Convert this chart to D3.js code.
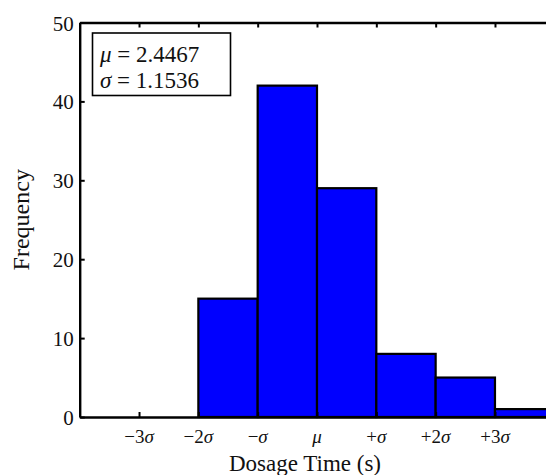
<!DOCTYPE html>
<html>
<head>
<meta charset="utf-8">
<script src="https://cdn.jsdelivr.net/npm/d3@7"></script>
<style>
  html, body { margin: 0; padding: 0; background: #fff; overflow: hidden; }
  svg { display: block; }
  svg text { font-family: "Liberation Serif", "Times New Roman", serif; fill: #111; }
</style>
</head>
<body>
<svg id="chart" width="546" height="475"></svg>
<script>
// ---- data ----
const mu = 2.4467;
const sigma = 1.1536;
const binStartSigma = [-2, -1, 0, 1, 2, 3];   // left edge of each bin, in sigma units
const binEndSigma   = [-1, 0, 1, 2, 3, 4];
const counts        = [15, 42, 29, 8, 5, 1];
const xTickSigma    = [-3, -2, -1, 0, 1, 2, 3];
const xTickLabels   = [["−3", "σ"], ["−2", "σ"], ["−", "σ"], ["", "μ"], ["+", "σ"], ["+2", "σ"], ["+3", "σ"]];
const yTicks        = [0, 10, 20, 30, 40, 50];

// ---- layout ----
const svg = d3.select("#chart");
const plotLeft = 79.7, plotRight = 554.3, plotTop = 22.5, plotBottom = 417;
const serif = "Liberation Serif";

const x = d3.scaleLinear().domain([mu - 4 * sigma, mu + 4 * sigma]).range([plotLeft, plotRight]);
const y = d3.scaleLinear().domain([0, 50]).range([plotBottom, plotTop]);

// bars
svg.append("g").selectAll("rect").data(counts).join("rect")
  .attr("x", (d, i) => x(mu + binStartSigma[i] * sigma))
  .attr("width", (d, i) => x(mu + binEndSigma[i] * sigma) - x(mu + binStartSigma[i] * sigma))
  .attr("y", d => y(d))
  .attr("height", d => y(0) - y(d))
  .attr("fill", "#0000ff")
  .attr("stroke", "#000")
  .attr("stroke-width", 2.2);

// axes
const xAxis = d3.axisBottom(x)
  .tickValues(xTickSigma.map(k => mu + k * sigma))
  .tickSize(-5).tickSizeOuter(0).tickFormat("");
const gx = svg.append("g").attr("transform", `translate(0,${plotBottom})`).call(xAxis);

const xTop = d3.axisTop(x)
  .tickValues(xTickSigma.map(k => mu + k * sigma))
  .tickSize(-5).tickSizeOuter(0).tickFormat("");
const gxt = svg.append("g").attr("transform", `translate(0,${plotTop})`).call(xTop);

const yAxis = d3.axisLeft(y).tickValues(yTicks).tickSize(-5).tickSizeOuter(0).tickFormat(d3.format("d"));
const gy = svg.append("g").attr("transform", `translate(${plotLeft},0)`).call(yAxis);

[gx, gxt, gy].forEach(g => {
  g.attr("font-family", serif);
  g.select(".domain").attr("stroke", "#000").attr("stroke-width", 2.4);
  g.selectAll(".tick line").attr("stroke", "#000").attr("stroke-width", 2);
});
gy.selectAll(".tick text")
  .attr("x", -6)
  .attr("dy", "0.36em")
  .attr("font-family", serif)
  .attr("font-size", 21);

// x tick labels with italic sigma / mu
const xl = svg.append("g").selectAll("text").data(xTickSigma).join("text")
  .attr("x", k => x(mu + k * sigma))
  .attr("y", 443)
  .attr("text-anchor", "middle")
  .attr("font-family", serif)
  .attr("font-size", 19);
xl.append("tspan").text((k, i) => xTickLabels[i][0]);
xl.append("tspan").attr("font-style", "italic").text((k, i) => xTickLabels[i][1]);

// axis labels
svg.append("text")
  .attr("x", 305)
  .attr("y", 471)
  .attr("text-anchor", "middle")
  .attr("font-family", serif)
  .attr("font-size", 23)
  .text("Dosage Time (s)");

svg.append("text")
  .attr("transform", `translate(29,${(plotTop + plotBottom) / 2}) rotate(-90)`)
  .attr("text-anchor", "middle")
  .attr("font-family", serif)
  .attr("font-size", 24)
  .text("Frequency");

// stats box
const box = svg.append("g");
box.append("rect")
  .attr("x", 92.5).attr("y", 33).attr("width", 138).attr("height", 62.5)
  .attr("fill", "#fff").attr("stroke", "#000").attr("stroke-width", 1.6);
const statLines = [["μ", " = " + mu.toFixed(4)], ["σ", " = " + sigma.toFixed(4)]];
statLines.forEach((ln, i) => {
  const t = box.append("text")
    .attr("x", 100).attr("y", 61.5 + i * 26)
    .attr("font-family", serif)
    .attr("font-size", 23);
  t.append("tspan").attr("font-style", "italic").text(ln[0]);
  t.append("tspan").text(ln[1]);
});
</script>
</body>
</html>
